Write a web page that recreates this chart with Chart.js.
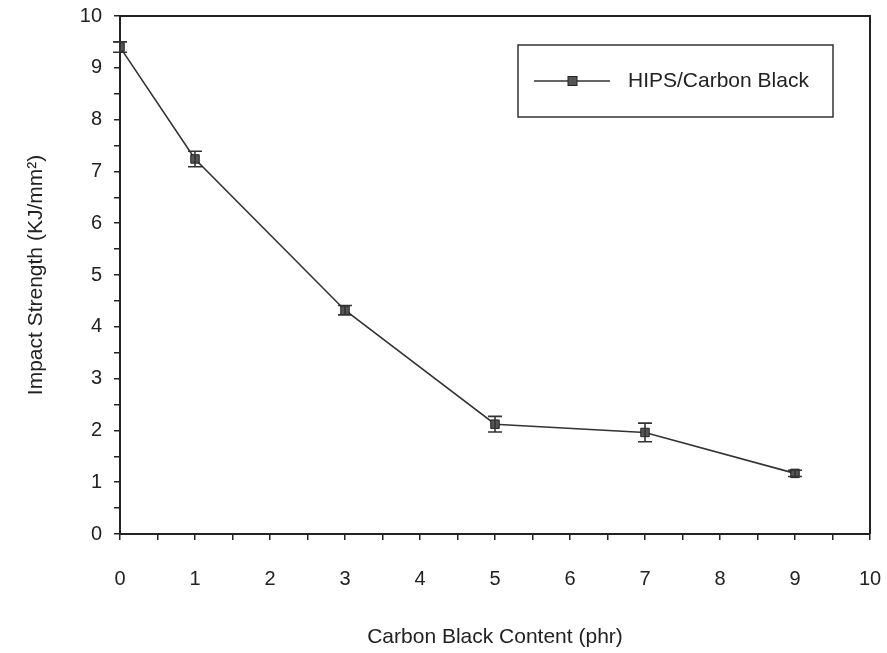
<!DOCTYPE html>
<html>
<head>
<meta charset="utf-8">
<script src="https://cdn.jsdelivr.net/npm/chart.js@4"></script>
<style>
  html, body { margin: 0; padding: 0; background: #fff; }
  #wrap { width: 887px; height: 653px; position: relative; }
</style>
</head>
<body>
<div id="wrap"><canvas id="c" width="887" height="653"></canvas></div>
<script>
// ---- data ----
const contentPhr = [0, 1, 3, 5, 7, 9];
const impactStrength = [9.40, 7.24, 4.32, 2.12, 1.96, 1.17];
const impactError = [0.10, 0.15, 0.09, 0.15, 0.18, 0.06];
const seriesLabel = 'HIPS/Carbon Black';
const xTitle = 'Carbon Black Content (phr)';
const yTitle = 'Impact Strength (KJ/mm²)';
const axisMin = 0, axisMax = 10;

const FONT = "'Liberation Sans', Arial, sans-serif";
const INK = '#222';

const errorBars = {
  id: 'errorBars',
  afterDatasetsDraw(chart) {
    const ctx = chart.ctx, xs = chart.scales.x, ys = chart.scales.y;
    ctx.save();
    ctx.strokeStyle = '#333';
    ctx.lineWidth = 1.6;
    contentPhr.forEach((xv, i) => {
      const px = xs.getPixelForValue(xv);
      const top = ys.getPixelForValue(impactStrength[i] + impactError[i]);
      const bot = ys.getPixelForValue(impactStrength[i] - impactError[i]);
      const cw = 7;
      ctx.beginPath();
      ctx.moveTo(px, top); ctx.lineTo(px, bot);
      ctx.moveTo(px - cw, top); ctx.lineTo(px + cw, top);
      ctx.moveTo(px - cw, bot); ctx.lineTo(px + cw, bot);
      ctx.stroke();
    });
    ctx.restore();
  }
};

const frameAndLegend = {
  id: 'frameAndLegend',
  afterDraw(chart) {
    const ctx = chart.ctx, a = chart.chartArea;
    ctx.save();
    // frame
    ctx.strokeStyle = INK;
    ctx.lineWidth = 2;
    ctx.beginPath();
    ctx.moveTo(a.left, a.top); ctx.lineTo(a.right, a.top); ctx.lineTo(a.right, a.bottom);
    ctx.stroke();
    // legend box
    const bx = a.left + 398, by = a.top + 29, bw = 315, bh = 72;
    ctx.lineWidth = 1.5;
    ctx.strokeStyle = '#333';
    ctx.strokeRect(bx, by, bw, bh);
    const ly = by + bh / 2;
    const ds = chart.data.datasets[0];
    ctx.strokeStyle = ds.borderColor;
    ctx.lineWidth = ds.borderWidth;
    ctx.beginPath();
    ctx.moveTo(bx + 16, ly); ctx.lineTo(bx + 92, ly);
    ctx.stroke();
    ctx.fillStyle = ds.pointBackgroundColor;
    ctx.strokeStyle = ds.pointBorderColor;
    ctx.lineWidth = 1;
    ctx.fillRect(bx + 50, ly - 4.5, 9, 9);
    ctx.strokeRect(bx + 50, ly - 4.5, 9, 9);
    ctx.fillStyle = INK;
    ctx.font = "21px " + FONT;
    ctx.textBaseline = 'middle';
    ctx.textAlign = 'left';
    ctx.fillText(ds.label, bx + 110, ly);
    ctx.restore();
  }
};

new Chart(document.getElementById('c'), {
  type: 'scatter',
  data: {
    datasets: [{
      label: seriesLabel,
      data: contentPhr.map((x, i) => ({ x: x, y: impactStrength[i] })),
      showLine: true,
      borderColor: '#333',
      borderWidth: 1.6,
      pointStyle: 'rect',
      pointRadius: 6,
      pointBackgroundColor: '#555',
      pointBorderColor: '#222',
      pointBorderWidth: 1,
      tension: 0
    }]
  },
  options: {
    responsive: false,
    animation: false,
    layout: { padding: { top: 16, right: 17, left: 0, bottom: 0 } },
    plugins: { legend: { display: false }, tooltip: { enabled: false } },
    scales: {
      x: {
        type: 'linear', min: axisMin, max: axisMax,
        afterFit(s) { s.height = 119; s.paddingLeft = 0; s.paddingRight = 0; },
        border: { display: true, color: INK, width: 2 },
        grid: { display: true, drawOnChartArea: false, drawTicks: true, tickLength: 6, color: INK, lineWidth: 1.5 },
        ticks: {
          stepSize: 0.5, autoSkip: false, maxRotation: 0,
          padding: 27, color: INK,
          font: { family: FONT, size: 20 },
          callback: v => Number.isInteger(v) ? String(v) : ''
        },
        title: { display: true, text: xTitle, color: INK, font: { family: FONT, size: 21 }, padding: { top: 0, bottom: 3 } }
      },
      y: {
        type: 'linear', min: axisMin, max: axisMax,
        afterFit(s) { s.width = 120; s.paddingTop = 0; s.paddingBottom = 0; },
        border: { display: true, color: INK, width: 2 },
        grid: { display: true, drawOnChartArea: false, drawTicks: true, tickLength: 6, color: INK, lineWidth: 1.5 },
        ticks: {
          stepSize: 0.5, autoSkip: false,
          padding: 12, color: INK,
          font: { family: FONT, size: 20 },
          callback: v => Number.isInteger(v) ? String(v) : ''
        },
        title: { display: true, text: yTitle, color: INK, font: { family: FONT, size: 21 }, padding: { top: 24, bottom: 0 } }
      }
    }
  },
  plugins: [errorBars, frameAndLegend]
});
</script>
</body>
</html>
